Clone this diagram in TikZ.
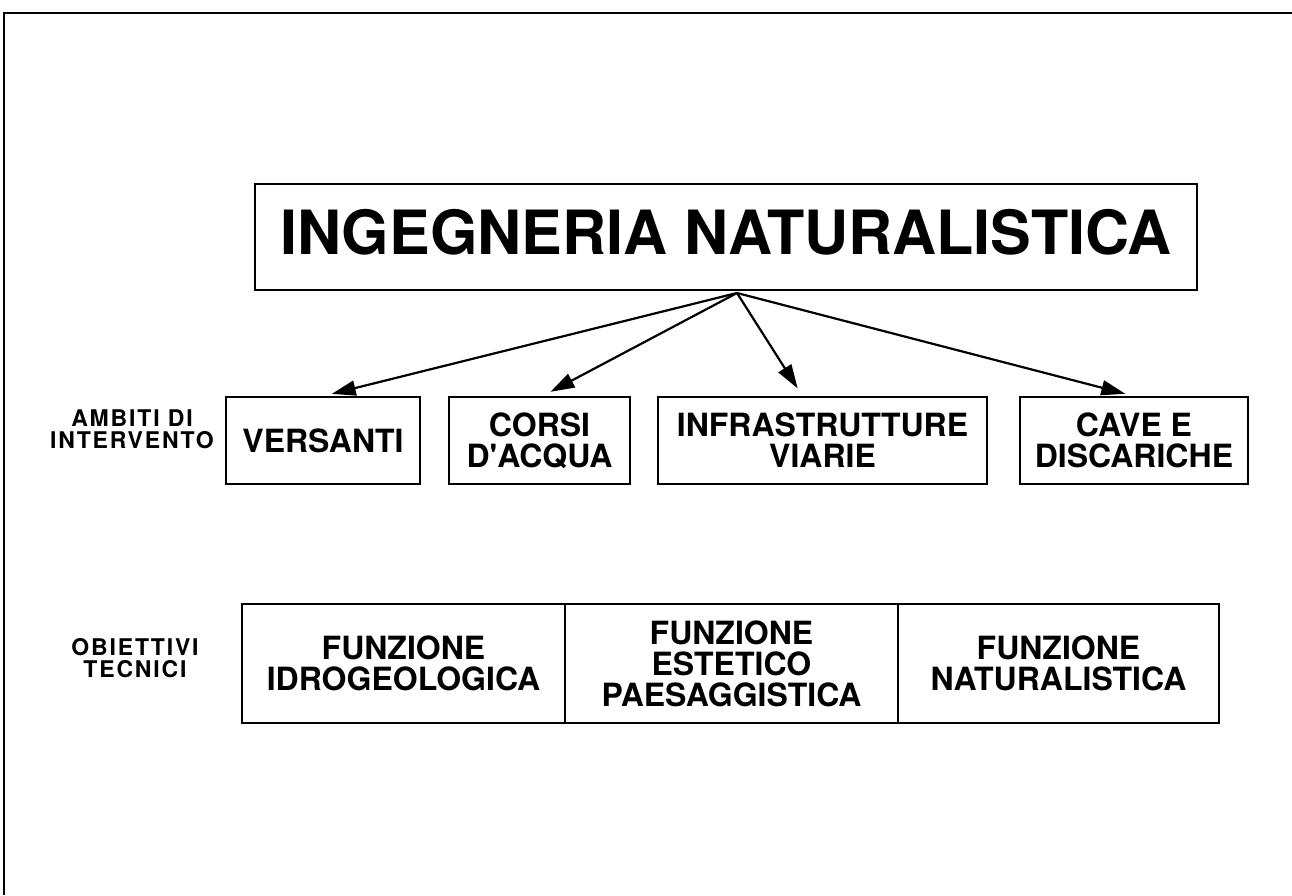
\documentclass[tikz,border=0pt]{standalone}
\usepackage{fontspec}
\setmainfont{TeX Gyre Heros}
\newfontfamily\spacedfont[LetterSpace=8]{TeX Gyre Heros}
\usepackage{tikz}
\usetikzlibrary{arrows.meta}

\begin{document}
\begin{tikzpicture}[x=1pt,y=-1pt,
    >={Triangle[length=24pt,width=15pt]},
    cell/.style={draw,line width=1.9pt,inner sep=0pt,align=center,
      font=\bfseries\fontsize{32}{31}\selectfont},
    side/.style={align=center,font=\spacedfont\bfseries\fontsize{23}{22}\selectfont}]
    \useasboundingbox (0,0) rectangle (1292,895);
    % frame of the sheet
    \draw[line width=2.6pt] (4,895) -- (4,13) -- (1292,13);
    % title
    \node[cell,minimum width=942pt,minimum height=106pt,text height=45pt,text depth=11pt,
      font=\bfseries\fontsize{61}{64}\selectfont] (title) at (726,237)
      {INGEGNERIA NATURALISTICA};
    % ambiti di intervento
    \node[side] (ambiti) at (132,429) {AMBITI DI\\INTERVENTO};
    \node[cell,minimum width=194pt,minimum height=87pt] (vers) at (323,440.5) {VERSANTI};
    \node[cell,minimum width=181pt,minimum height=87pt] (corsi) at (539.5,440.5) {CORSI\\D\textquotesingle ACQUA};
    \node[cell,minimum width=329pt,minimum height=87pt] (infra) at (822.5,440.5) {INFRASTRUTTURE\\VIARIE};
    \node[cell,minimum width=228pt,minimum height=87pt] (cave) at (1134,440.5) {CAVE E\\DISCARICHE};
    \coordinate (hub) at (737,293);
    \draw[->,line width=2.2pt,shorten >=9pt] (hub) to (vers.north);
    \draw[->,line width=2.2pt,shorten >=9pt] (hub) to ([xshift=3pt]corsi.north);
    \draw[->,line width=2.2pt,shorten >=9pt] (hub) to ([xshift=-20pt]infra.north);
    \draw[->,line width=2.2pt,shorten >=9pt] (hub) to (cave.north);
    % obiettivi tecnici
    \node[side] (obiet) at (135,658.5) {OBIETTIVI\\TECNICI};
    \node[cell,minimum width=323pt,minimum height=119pt] (idro) at (403.5,663.5) {FUNZIONE\\IDROGEOLOGICA};
    \node[cell,minimum width=333pt,minimum height=119pt] (estet) at (731.5,663.5) {FUNZIONE\\ESTETICO\\PAESAGGISTICA};
    \node[cell,minimum width=321pt,minimum height=119pt] (natur) at (1058.5,663.5) {FUNZIONE\\NATURALISTICA};
\end{tikzpicture}
\end{document}
